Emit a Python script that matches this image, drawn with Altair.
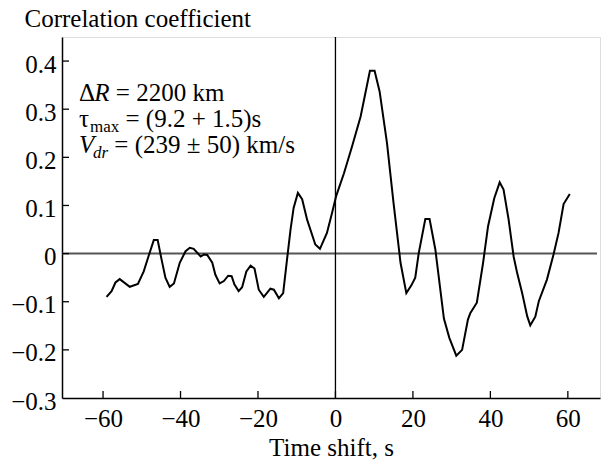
import altair as alt
import pandas as pd

# Cross-correlation of the two records as a function of time shift
time_shift = [-59.1, -57.8, -56.8, -55.7, -53.1, -51.0, -49.5, -48.2, -46.9, -45.9,
              -44.9, -43.9, -42.8, -41.7, -40.2, -38.7, -37.6, -36.6, -34.8, -34.0,
              -33.1, -31.8, -31.0, -29.9, -28.8, -27.7, -26.8, -26.1, -25.0, -24.1,
              -23.0, -21.9, -20.9, -19.8, -18.5, -16.8, -15.9, -14.6, -13.5, -12.5,
              -11.6, -10.8, -9.7, -8.6, -7.3, -5.2, -4.0, -2.2, -0.9, 0.2,
              2.2, 4.3, 6.5, 8.9, 10.1, 11.4, 13.3, 15.0, 16.8, 18.3,
              19.6, 20.6, 21.5, 23.2, 24.3, 25.8, 28.0, 29.4, 31.2, 32.7,
              34.2, 34.8, 36.5, 38.1, 39.4, 41.0, 42.4, 43.4, 44.7, 46.0,
              46.9, 48.2, 49.5, 50.3, 51.6, 52.5, 54.6, 56.3, 57.6, 58.9, 60.5]
corr = [-0.090, -0.078, -0.060, -0.053, -0.069, -0.063, -0.037, -0.004, 0.028, 0.028,
        -0.012, -0.050, -0.069, -0.062, -0.019, 0.005, 0.012, 0.010, -0.006, -0.002,
        -0.003, -0.019, -0.044, -0.062, -0.057, -0.046, -0.047, -0.064, -0.078, -0.070,
        -0.037, -0.025, -0.031, -0.075, -0.090, -0.073, -0.075, -0.093, -0.082, -0.012,
        0.050, 0.095, 0.126, 0.113, 0.070, 0.019, 0.010, 0.043, 0.084, 0.120,
        0.167, 0.223, 0.285, 0.380, 0.380, 0.337, 0.230, 0.105, -0.019, -0.082,
        -0.066, -0.050, 0.001, 0.072, 0.072, 0.008, -0.135, -0.175, -0.212, -0.200,
        -0.137, -0.124, -0.102, -0.020, 0.057, 0.115, 0.148, 0.133, 0.071, -0.006,
        -0.040, -0.082, -0.130, -0.149, -0.131, -0.099, -0.054, -0.002, 0.043, 0.103, 0.124]

x_ticks = [-60, -40, -20, 0, 20, 40, 60]
y_ticks = [-0.3, -0.2, -0.1, 0.0, 0.1, 0.2, 0.3, 0.4]
x_domain = [-70.6, 68.3]
y_domain = [-0.3, 0.45]

W, H = 538, 361
FONT = "Liberation Serif"
F = 25      # main text size
S = 17      # subscript size

df = pd.DataFrame({"t": time_shift, "r": corr})
xs = alt.Scale(domain=x_domain, nice=False, zero=False)
ys = alt.Scale(domain=y_domain, nice=False, zero=False)

base = alt.Chart(df)

curve = base.mark_line(color="black", strokeWidth=2, interpolate="linear").encode(
    x=alt.X("t:Q", scale=xs,
            axis=alt.Axis(values=x_ticks, format="d", ticks=False, grid=False,
                          domainColor="black", domainWidth=1.5,
                          labelFont=FONT, labelFontSize=F, labelColor="black",
                          labelPadding=8,
                          title="Time shift, s", titleFont=FONT, titleFontSize=F,
                          titleFontWeight="normal", titleColor="black",
                          titleBaseline="alphabetic", titleY=57)),
    y=alt.Y("r:Q", scale=ys,
            axis=alt.Axis(values=y_ticks, ticks=False, grid=False,
                          labelExpr="datum.value == 0 ? '0' : format(datum.value, '.1f')",
                          domainColor="black", domainWidth=1.5,
                          labelFont=FONT, labelFontSize=F, labelColor="black",
                          labelPadding=6, labelOffset=3,
                          title="Correlation coefficient", titleFont=FONT,
                          titleFontSize=F, titleFontWeight="normal", titleColor="black",
                          titleAngle=0, titleAlign="left", titleBaseline="alphabetic",
                          titleX=-38, titleY=-11)),
)

zero_h = alt.Chart(pd.DataFrame({"r": [0.0]})).mark_rule(color="#555555", strokeWidth=2).encode(
    y=alt.Y("r:Q", scale=ys), x=alt.value(0), x2=alt.value(W - 3))
zero_v = alt.Chart(pd.DataFrame({"t": [0.0]})).mark_rule(color="black", strokeWidth=1.3).encode(
    x=alt.X("t:Q", scale=xs), y=alt.value(0), y2=alt.value(H))

# inward tick marks
xtick = alt.Chart(pd.DataFrame({"t": x_ticks})).mark_rule(color="black", strokeWidth=1.3).encode(
    x=alt.X("t:Q", scale=xs), y=alt.value(H), y2=alt.value(H - 7))
ytick = alt.Chart(pd.DataFrame({"r": y_ticks[1:]})).mark_rule(color="black", strokeWidth=1.3).encode(
    y=alt.Y("r:Q", scale=ys), x=alt.value(0), x2=alt.value(7))

# annotation block with italic symbols and subscripts
x0 = 17
y1, y2, y3 = 64, 90, 116
sub_drop = 5
segments = [
    ("\u0394", x0, y1, F, "normal"),
    ("R", x0 + 0.612 * F, y1, F, "italic"),
    ("= 2200 km", x0 + 0.612 * F + 0.611 * F + 0.25 * F, y1, F, "normal"),
    ("\u03c4", x0, y2, F, "normal"),
    ("max", x0 + 0.44 * F, y2 + sub_drop, S, "normal"),
    ("= (9.2 + 1.5)s", x0 + 0.44 * F + 1.722 * S + 0.25 * F, y2, F, "normal"),
    ("V", x0, y3, F, "italic"),
    ("dr", x0 + 0.56 * F, y3 + sub_drop, S, "italic"),
    ("= (239 \u00b1 50) km/s", x0 + 0.56 * F + 0.889 * S + 0.25 * F, y3, F, "normal"),
]
annot_layers = []
for txt, px, py, size, style in segments:
    annot_layers.append(
        alt.Chart(pd.DataFrame({"s": [txt]})).mark_text(
            font=FONT, fontSize=size, fontStyle=style, color="black",
            align="left", baseline="alphabetic").encode(
            text="s:N", x=alt.value(px), y=alt.value(py)))

chart = alt.layer(zero_h, zero_v, xtick, ytick, curve, *annot_layers).properties(
    width=W, height=H,
    autosize=alt.AutoSizeParams(type="none"),
    padding={"left": 62, "top": 37, "right": 3, "bottom": 68},
).configure_view(stroke=None).configure(background="white")

chart.save("out.html", embed_options={"renderer": "svg", "actions": False})
